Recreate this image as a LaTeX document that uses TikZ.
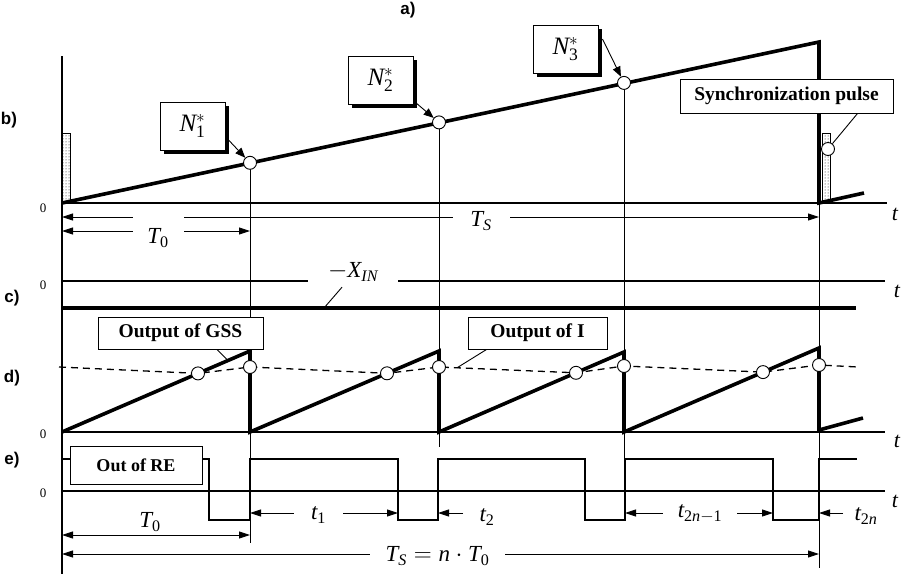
\documentclass[tikz,border=0pt]{standalone}
\usepackage{fontspec}
\setmainfont{Liberation Serif}
\newfontfamily\labsans{Liberation Sans}
\usetikzlibrary{arrows.meta,patterns,shadows,calc}
\begin{document}
\begin{tikzpicture}[x=1pt,y=-1pt,
  axisl/.style={line width=1.1pt},
  thinl/.style={line width=0.9pt},
  thickl/.style={line width=3.6pt, line join=miter},
  wavel/.style={line width=2.6pt, line join=miter},
  dashl/.style={line width=1.3pt, dash pattern=on 7pt off 5pt},
  dimboth/.style={line width=0.9pt, {Triangle[length=11pt,width=7pt]}-{Triangle[length=11pt,width=7pt]}},
  dimone/.style={line width=0.9pt, -{Triangle[length=11pt,width=7pt]}},
  leadarrow/.style={line width=0.9pt, -{Triangle[length=10pt,width=8pt]}},
  dot/.style={circle, draw, fill=white, line width=0.9pt, minimum size=13pt, inner sep=0pt},
  seclab/.style={font=\labsans\bfseries\fontsize{17}{19}\selectfont, inner sep=0pt},
  zerolab/.style={font=\fontsize{13}{15}\selectfont, inner sep=0pt},
  tlab/.style={font=\fontsize{22}{24}\selectfont, inner sep=0pt},
  mathlab/.style={font=\fontsize{23}{25}\selectfont, inner sep=0pt},
  gaplab/.style={mathlab, fill=white, minimum height=22pt},
  tagbox/.style={draw, line width=1pt, fill=white, inner sep=0pt,
    font=\bfseries\fontsize{19.5}{21}\selectfont},
  nbox/.style={draw, line width=1pt, fill=white, inner sep=0pt,
    minimum width=65pt, minimum height=48pt,
    font=\fontsize{25}{27}\selectfont,
    drop shadow={shadow xshift=4pt, shadow yshift=-4pt, opacity=1, fill=black}}
]
\useasboundingbox (0,0) rectangle (903,574);

% section labels
\node[seclab] (la) at (408,10) {a)};
\node[seclab] (lb) at (9,120) {b)};
\node[seclab] (lc) at (12,298) {c)};
\node[seclab] (ld) at (12,378) {d)};
\node[seclab] (le) at (12,460) {e)};

% zero labels
\node[zerolab] (zb) at (43,208) {0};
\node[zerolab] (zc) at (43,285) {0};
\node[zerolab] (zd) at (43,434) {0};
\node[zerolab] (ze) at (43,493) {0};

% t labels
\node[tlab] (tb) at (895,214) {$\mathit{t}$};
\node[tlab] (tc) at (897,291) {$\mathit{t}$};
\node[tlab] (td) at (897,441) {$\mathit{t}$};
\node[tlab] (te) at (895,501) {$\mathit{t}$};

% vertical axis
\coordinate (ytop) at (62,56);
\coordinate (ybot) at (62,574);
\draw[axisl] (ytop) -- (ybot);

% horizontal axes
\coordinate (bA) at (62,203); \coordinate (bE) at (887,203);
\coordinate (cA) at (62,281); \coordinate (cE) at (885,281);
\coordinate (dA) at (62,432); \coordinate (dE) at (885,432);
\coordinate (eA) at (62,491); \coordinate (eE) at (885,491);
\draw[axisl] (bA) -- (bE);
\draw[axisl] (cA) -- (cE);
\draw[axisl] (dA) -- (dE);
\draw[axisl] (eA) -- (eE);

% vertical marker lines
\coordinate (v1t) at (250,163); \coordinate (v1b) at (250,543);
\coordinate (v2t) at (439,122); \coordinate (v2b) at (439,447);
\coordinate (v3t) at (624,83);  \coordinate (v3b) at (624,463);
\coordinate (v4t) at (819,42);  \coordinate (v4b) at (819,568);
\draw[thinl] (v1t) -- (v1b);
\draw[thinl] (v2t) -- (v2b);
\draw[thinl] (v3t) -- (v3b);
\draw[thinl] (v4t) -- (v4b);

% ---------------- b) ----------------
\draw[thinl, pattern=dots] (62,133) rectangle (70,203);
\draw[thinl, pattern=dots] (822,133) rectangle (830,203);
\draw[thickl] (62,203) -- (819,42) -- (819,203) -- (864,193);

\draw[dimboth] (62,217) -- (819,217);
\draw[dimboth] (62,231) -- (250,231);
\node[mathlab, fill=white, minimum width=51pt, minimum height=48pt] (T0b) at (158,238) {$\mathit{T}_{\mathrm{0}}$};
\node[gaplab, minimum width=57pt] (TSb) at (481,221) {$\mathit{T}_{\mathit{S}}$};

\node[nbox] (N1) at (192.5,126) {$\mathit{N}_{\mathrm{1}}^{\ast}$};
\node[nbox] (N2) at (380.5,80) {$\mathit{N}_{\mathrm{2}}^{\ast}$};
\node[nbox] (N3) at (565.5,49) {$\mathit{N}_{\mathrm{3}}^{\ast}$};
\node[dot] (c1) at (250,162.8) {};
\node[dot] (c2) at (439,122.4) {};
\node[dot] (c3) at (624,82.9) {};
\draw[leadarrow] (N1.-18) -- (c1);
\draw[leadarrow] ($(N2.south east)+(2,-2)$) -- (c2);
\draw[leadarrow] ($(N3.east)+(4,-10)$) -- (c3);

\node[tagbox, minimum width=213pt, minimum height=34pt] (sync) at (786.5,96) {Synchronization pulse};
\node[dot] (cs) at (828,149) {};
\draw[thinl] ($(sync.south east)+(-36,0)$) -- (cs);

% ---------------- c) ----------------
\node[mathlab, fill=white, minimum width=90pt, minimum height=24pt] (xin) at (353,272) {$-\mathit{X}_{\mathit{IN}}$};
\draw[line width=3.6pt] (62,308) -- (856,308);
\coordinate (xinp) at (324,308);
\draw[thinl] ($(xin.south)+(-11,3)$) -- (xinp);

% ---------------- d) ----------------
\draw[thickl] (62,432) -- (250,351) -- (250,432) -- (439,351) -- (439,432)
  -- (624,352) -- (624,432) -- (819,348) -- (819,430) -- (863,418);
\coordinate (x1) at (198,373.4);
\coordinate (x2) at (387,373.3);
\coordinate (x3) at (576,372.8);
\coordinate (x4) at (763,372.1);
\draw[dashl] (59,367) -- (x1) -- (250,367) -- (x2) -- (439,367) -- (x3)
  -- (624,366) -- (x4) -- (819,365) -- (858,367);
\node[dot] (dx1) at (x1) {};
\node[dot] (dx2) at (x2) {};
\node[dot] (dx3) at (x3) {};
\node[dot] (dx4) at (x4) {};
\node[dot] (dd1) at (250,367) {};
\node[dot] (dd2) at (439,367) {};
\node[dot] (dd3) at (624,366) {};
\node[dot] (dd4) at (819,365) {};

\node[tagbox, minimum width=165pt, minimum height=32pt] (gss) at (180.5,333) {Output of GSS};
\node[tagbox, minimum width=139pt, minimum height=32pt] (ibox) at (537.5,333) {Output of I};
\coordinate (gssp) at (228,360.5);
\coordinate (ip) at (457,367.8);
\draw[thinl] ($(gss.south)+(36.5,0)$) -- (gssp);
\draw[thinl] ($(ibox.south west)+(19,0)$) -- (ip);

% ---------------- e) ----------------
\draw[wavel] (62,459) -- (209,459) -- (209,520) -- (250,520) -- (250,459)
  -- (398,459) -- (398,520) -- (438,520) -- (438,459) -- (585,459)
  -- (585,520) -- (625,520) -- (625,459) -- (773,459) -- (773,520)
  -- (819,520) -- (819,459) -- (857,459);
\node[tagbox, minimum width=132pt, minimum height=38pt,
  font=\bfseries\fontsize{18}{20}\selectfont] (re) at (136,465) {Out of RE};

\draw[dimboth] (250,513) -- (398,513);
\node[gaplab, minimum width=49pt] (t1) at (318.5,515) {$\mathit{t}_{\mathrm{1}}$};
\draw[dimone] (463,513) -- (438,513);
\node[mathlab] (t2) at (487,517) {$\mathit{t}_{\mathrm{2}}$};
\draw[dimboth] (625,513) -- (773,513);
\node[gaplab, minimum width=74pt] (t2n1) at (700,514) {$\mathit{t}_{\mathrm{2}\mathit{n}-\mathrm{1}}$};
\draw[dimone] (843,513) -- (819,513);
\node[mathlab] (t2n) at (866,516) {$\mathit{t}_{\mathrm{2}\mathit{n}}$};

\draw[dimboth] (62,535) -- (250,535);
\node[mathlab] (T0e) at (150,522) {$\mathit{T}_{\mathrm{0}}$};
\draw[dimboth] (62,554) -- (819,554);
\node[gaplab, minimum width=135pt] (TSe) at (437.5,556) {$\mathit{T}_{\mathit{S}} = \mathit{n}\cdot \mathit{T}_{\mathrm{0}}$};

\end{tikzpicture}
\end{document}
